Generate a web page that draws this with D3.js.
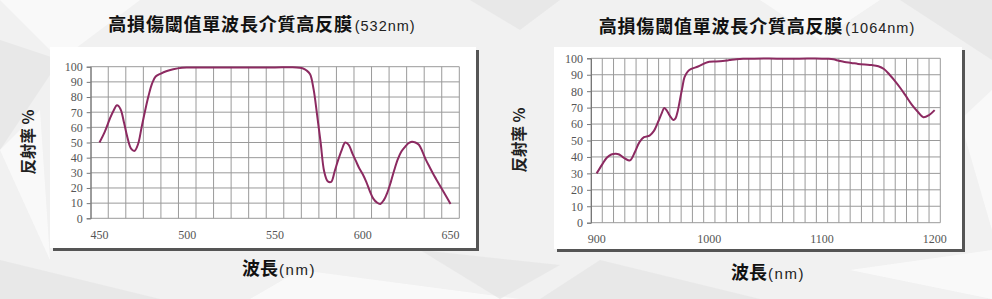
<!DOCTYPE html>
<html>
<head>
<meta charset="utf-8">
<script src="https://cdn.jsdelivr.net/npm/d3@7"></script>
<style>
  body { margin: 0; background: #f1f1f1; }
  svg { display: block; }
</style>
</head>
<body>
<svg id="chart" width="992" height="299"></svg>
<script>
// 532nm data
var wl532 = [450,453,456,458,460,462,464,466,468,470,472,474,476,478,480,482,485,488,492,497,500,510,520,530,540,550,560,564,566,568,570,572,574,576,578,580,582,584,586,588,590,592,594,596,598,600,602,604,606,608,610,612,614,616,618,620,622,624,626,628,630,632,634,636,638,640,642,644,646,648,650];
var r532 = [50,57,66,71,74.5,72,63,53,46,44.5,49,60,71,81,89,93.5,95.5,97,98.3,99.3,99.5,99.5,99.5,99.5,99.5,99.5,99.6,99.3,98.8,97.5,95,85,68,50,31,24.5,24,31,38.5,45,50,48.5,43,38,33,29,24,18,13,10.5,9.5,12,17,24,32,39,44,47,49.5,50.5,50,48.5,44,38.5,34,29.5,25.5,21.5,17.5,13.5,9.5];

// 1064nm data
var wl1064 = [900,905,909,913,917,920,924,928,930,934,938,942,947,951,955,958,960,962,965,968,970,972,974,976,978,981,984,990,996,1000,1006,1012,1018,1024,1030,1040,1060,1080,1100,1105,1110,1115,1120,1126,1132,1138,1144,1150,1155,1160,1165,1170,1175,1180,1185,1190,1195,1200];
var r1064 = [30,35.5,39.5,41.5,42,41.5,39.5,38,38,43,49,52,53,56,62,67,69.8,68.5,65,62.5,63.5,68,75,82,88.5,92,93.5,95,97,97.9,98.1,98.4,98.9,99.4,99.7,99.8,99.8,99.8,99.8,99.7,99.4,98.5,97.7,97.2,96.6,96.2,95.9,95.2,93.5,90,86,81.5,76.5,71.5,67.5,64.2,65.5,68.5];

var yTicks = [0,10,20,30,40,50,60,70,80,90,100];
var xTicks532 = [450,500,550,600,650];
var xTicks1064 = [900,1000,1100,1200];

var svg = d3.select("#chart");

// faint low-poly background
var polys = [
  [[0,0],[140,0],[60,60]], [[0,40],[60,60],[0,150]], [[0,150],[40,110],[50,260]],
  [[0,260],[160,299],[0,299]], [[300,270],[520,299],[250,299]], [[420,250],[560,265],[500,299]],
  [[760,0],[880,0],[820,40]], [[900,0],[992,0],[992,60]], [[960,120],[992,90],[992,230]],
  [[600,260],[760,299],[540,299]], [[850,270],[992,250],[992,299]], [[470,0],[560,0],[520,30]]
];
svg.selectAll("polygon.bg").data(polys).enter().append("polygon")
  .attr("class", "bg")
  .attr("points", function(d){ return d.map(function(p){ return p.join(","); }).join(" "); })
  .attr("fill", function(d, i){ return i % 2 ? "#e6e6e6" : "#fbfbfb"; })
  .attr("opacity", 0.8);

var cjk = "'Noto Sans CJK TC', 'Noto Sans CJK SC', sans-serif";
var serif = "'Liberation Serif', 'DejaVu Serif', serif";
var sans = "'Liberation Sans', Arial, sans-serif";

function drawChart(o) {
  var g = svg.append("g");

  // card with shadow
  g.append("rect").attr("x", o.box[0] + 3).attr("y", o.box[1] + 3)
    .attr("width", o.box[2]).attr("height", o.box[3]).attr("fill", "#555");
  g.append("rect").attr("x", o.box[0]).attr("y", o.box[1])
    .attr("width", o.box[2]).attr("height", o.box[3]).attr("fill", "#fff");

  var x = d3.scaleLinear().domain(o.xDomain).range(o.xRange);
  var y = d3.scaleLinear().domain([0, 100]).range(o.yRange);

  // grid
  g.selectAll("line.vg").data(d3.range(o.xDomain[0], o.xDomain[1] + 1, 10)).enter()
    .append("line")
    .attr("x1", function(d){ return x(d); }).attr("x2", function(d){ return x(d); })
    .attr("y1", y(0)).attr("y2", y(100))
    .attr("stroke", "#9a9a9a").attr("stroke-width", 1);
  g.selectAll("line.hg").data(yTicks).enter()
    .append("line")
    .attr("x1", o.xRange[0]).attr("x2", o.xRange[1])
    .attr("y1", function(d){ return y(d); }).attr("y2", function(d){ return y(d); })
    .attr("stroke", "#9a9a9a").attr("stroke-width", 1);

  // y axis
  var yAxis = d3.axisLeft(y).tickValues(yTicks).tickSize(4).tickPadding(4);
  var ya = g.append("g").attr("transform", "translate(" + o.xRange[0] + ",0)").call(yAxis);
  ya.select(".domain").attr("stroke", "#777");
  ya.selectAll(".tick line").attr("stroke", "#777");
  ya.selectAll("text").attr("fill", "#555")
    .style("font-family", serif).style("font-size", "12px");

  // x tick labels
  g.selectAll("text.xl").data(o.xTicks).enter().append("text")
    .attr("x", function(d){ return x(d); }).attr("y", o.xLabelY)
    .attr("text-anchor", "middle").attr("fill", "#555")
    .style("font-family", serif).style("font-size", "12px")
    .text(function(d){ return d; });

  // curve
  var line = d3.line()
    .x(function(d){ return x(d[0]); })
    .y(function(d){ return y(d[1]); })
    .curve(d3.curveCatmullRom);
  g.append("path").datum(d3.zip(o.wl, o.r))
    .attr("d", line).attr("fill", "none")
    .attr("stroke", "#8c2a61").attr("stroke-width", 2);

  // title
  var t = g.append("text").attr("x", o.titleX).attr("y", o.titleY).attr("text-anchor", "middle")
    .style("font-family", cjk);
  t.append("tspan").style("font-size", "18px").style("letter-spacing", "0.8px")
    .style("font-weight", "bold").attr("fill", "#111")
    .text("高損傷閾值單波長介質高反膜");
  t.append("tspan").attr("dx", 2).style("font-family", sans).style("font-size", "14.5px")
    .style("letter-spacing", "1px").attr("fill", "#222").text("(" + o.nm + ")");

  // x label
  var xl = g.append("text").attr("x", o.xTitle[0]).attr("y", o.xTitle[1]).attr("text-anchor", "middle")
    .style("font-family", cjk);
  xl.append("tspan").style("font-size", "18px").style("font-weight", "bold").attr("fill", "#111").text("波長");
  xl.append("tspan").attr("dx", 1).style("font-family", sans).style("font-size", "15px")
    .style("letter-spacing", "1.5px").attr("fill", "#222").text("(nm)");

  // y label
  g.append("text")
    .attr("transform", "translate(" + o.yTitle[0] + "," + o.yTitle[1] + ") rotate(-90)")
    .attr("text-anchor", "middle")
    .style("font-family", cjk)
    .style("font-size", "15.5px").style("font-weight", "bold").attr("fill", "#222")
    .text("反射率 %");
}

drawChart({
  box: [50, 47, 426, 201],
  xDomain: [445, 655], xRange: [90.7, 459.3], yRange: [218.3, 66.7],
  xTicks: xTicks532, xLabelY: 239,
  wl: wl532, r: r532, nm: "532nm",
  titleX: 262, titleY: 31,
  xTitle: [279, 275], yTitle: [34, 142]
});

drawChart({
  box: [554, 47, 408, 202],
  xDomain: [895, 1205], xRange: [591, 940.3], yRange: [222.7, 58.3],
  xTicks: xTicks1064, xLabelY: 243,
  wl: wl1064, r: r1064, nm: "1064nm",
  titleX: 757, titleY: 33,
  xTitle: [768, 279], yTitle: [525, 140]
});
</script>
</body>
</html>
